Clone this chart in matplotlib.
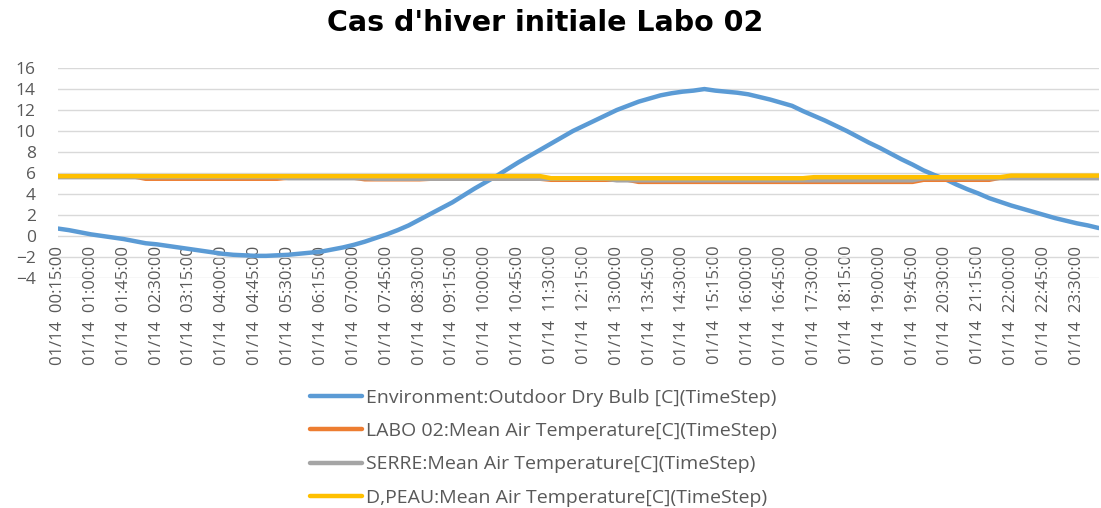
import matplotlib
matplotlib.use("Agg")
import matplotlib.pyplot as plt

# 15-minute timesteps for 01/14, 00:15 through 24:00
times = [f"{(15 * (i + 1)) // 60:02d}:{(15 * (i + 1)) % 60:02d}:00" for i in range(96)]

outdoor = [
    0.7, 0.55, 0.35, 0.15, 0.0, -0.15, -0.3, -0.5, -0.7, -0.8, -0.95, -1.1,
    -1.25, -1.4, -1.55, -1.7, -1.8, -1.85, -1.9, -1.9, -1.85, -1.8, -1.7, -1.6,
    -1.5, -1.3, -1.1, -0.85, -0.55, -0.2, 0.15, 0.55, 1.0, 1.55, 2.1, 2.65,
    3.2, 3.85, 4.5, 5.1, 5.7, 6.35, 7.0, 7.6, 8.2, 8.8, 9.4, 10.0,
    10.5, 11.0, 11.5, 12.0, 12.4, 12.8, 13.1, 13.4, 13.6, 13.75, 13.85, 14.0,
    13.85, 13.75, 13.65, 13.5, 13.25, 13.0, 12.7, 12.4, 11.9, 11.45, 11.0, 10.5,
    10.0, 9.45, 8.9, 8.4, 7.85, 7.3, 6.8, 6.25, 5.8, 5.4, 4.9, 4.45,
    4.05, 3.6, 3.25, 2.9, 2.6, 2.3, 2.0, 1.7, 1.45, 1.2, 1.0, 0.75,
]

labo02 = [
    5.65, 5.65, 5.65, 5.65, 5.65, 5.65, 5.65, 5.65, 5.45, 5.45, 5.45, 5.45,
    5.45, 5.45, 5.45, 5.45, 5.45, 5.45, 5.45, 5.45, 5.45, 5.55, 5.55, 5.55,
    5.55, 5.55, 5.55, 5.55, 5.4, 5.4, 5.4, 5.4, 5.4, 5.4, 5.45, 5.45,
    5.45, 5.45, 5.45, 5.45, 5.45, 5.45, 5.45, 5.45, 5.45, 5.35, 5.35, 5.35,
    5.35, 5.35, 5.35, 5.35, 5.35, 5.15, 5.15, 5.15, 5.15, 5.15, 5.15, 5.15,
    5.15, 5.15, 5.15, 5.15, 5.15, 5.15, 5.15, 5.15, 5.15, 5.15, 5.15, 5.15,
    5.15, 5.15, 5.15, 5.15, 5.15, 5.15, 5.15, 5.35, 5.35, 5.35, 5.35, 5.35,
    5.35, 5.35, 5.55, 5.55, 5.55, 5.55, 5.55, 5.55, 5.55, 5.55, 5.55, 5.55,
]

serre = [
    5.6, 5.6, 5.6, 5.6, 5.6, 5.6, 5.6, 5.6, 5.6, 5.6, 5.6, 5.6,
    5.6, 5.6, 5.6, 5.6, 5.6, 5.6, 5.6, 5.6, 5.6, 5.5, 5.5, 5.5,
    5.5, 5.5, 5.5, 5.5, 5.5, 5.45, 5.45, 5.45, 5.45, 5.45, 5.45, 5.45,
    5.45, 5.45, 5.45, 5.45, 5.45, 5.45, 5.45, 5.45, 5.45, 5.45, 5.45, 5.45,
    5.45, 5.45, 5.45, 5.3, 5.3, 5.3, 5.3, 5.3, 5.3, 5.3, 5.3, 5.3,
    5.3, 5.3, 5.3, 5.3, 5.3, 5.3, 5.3, 5.3, 5.3, 5.3, 5.3, 5.3,
    5.3, 5.3, 5.3, 5.3, 5.3, 5.3, 5.3, 5.5, 5.5, 5.5, 5.5, 5.5,
    5.5, 5.5, 5.5, 5.5, 5.5, 5.5, 5.5, 5.5, 5.5, 5.5, 5.5, 5.5,
]

dpeau = [
    5.7, 5.7, 5.7, 5.7, 5.7, 5.7, 5.7, 5.7, 5.7, 5.7, 5.7, 5.7,
    5.7, 5.7, 5.7, 5.7, 5.7, 5.7, 5.7, 5.7, 5.7, 5.7, 5.7, 5.7,
    5.7, 5.7, 5.7, 5.7, 5.7, 5.7, 5.7, 5.7, 5.7, 5.7, 5.7, 5.7,
    5.7, 5.7, 5.7, 5.7, 5.7, 5.7, 5.7, 5.7, 5.7, 5.5, 5.5, 5.5,
    5.5, 5.5, 5.5, 5.5, 5.5, 5.5, 5.5, 5.5, 5.5, 5.5, 5.5, 5.5,
    5.5, 5.5, 5.5, 5.5, 5.5, 5.5, 5.5, 5.5, 5.5, 5.6, 5.6, 5.6,
    5.6, 5.6, 5.6, 5.6, 5.6, 5.6, 5.6, 5.6, 5.6, 5.6, 5.6, 5.6,
    5.6, 5.6, 5.6, 5.75, 5.75, 5.75, 5.75, 5.75, 5.75, 5.75, 5.75, 5.75,
]

series = [
    ("Environment:Outdoor Dry Bulb [C](TimeStep)", outdoor, "#5B9BD5"),
    ("LABO 02:Mean Air Temperature[C](TimeStep)", labo02, "#ED7D31"),
    ("SERRE:Mean Air Temperature[C](TimeStep)", serre, "#A5A5A5"),
    ("D,PEAU:Mean Air Temperature[C](TimeStep)", dpeau, "#FFC000"),
]

plt.rcParams["font.family"] = ["Open Sans", "DejaVu Sans"]
text_color = "#595959"

fig = plt.figure(figsize=(11.01, 5.08), dpi=100)
ax = fig.add_axes([0.0527, 0.453, 0.9453, 0.413])

x = list(range(len(times)))
for name, vals, color in series:
    ax.plot(x, vals, color=color, lw=3.2, label=name, solid_capstyle="round")

ax.set_xlim(0, len(times) - 1)
ax.set_ylim(-4, 16)
ax.set_yticks(range(-4, 17, 2))
ax.yaxis.grid(True, color="#D9D9D9", lw=1.0)
ax.set_axisbelow(True)

for side in ("top", "right", "left"):
    ax.spines[side].set_visible(False)
# category labels hang from the zero line
ax.spines["bottom"].set_position(("data", 0))
ax.spines["bottom"].set_color("none")

tick_idx = x[::3]
ax.set_xticks(tick_idx)
ax.set_xticklabels([f"01/14  {times[i]}" for i in tick_idx], rotation=90,
                   fontsize=12, color=text_color)
ax.tick_params(axis="x", length=0, pad=7)
ax.tick_params(axis="y", length=0, pad=16, labelsize=12.5, labelcolor=text_color)

fig.text(0.495, 0.955, "Cas d'hiver initiale Labo 02", ha="center", va="center",
         fontsize=20.5, fontweight="bold", color="black", family="DejaVu Sans")

leg = fig.legend(loc="upper left", bbox_to_anchor=(0.2816, 0.234), frameon=False,
                 fontsize=14, handlelength=2.67, handletextpad=0.2,
                 labelspacing=0.78, borderpad=0, borderaxespad=0)
for t in leg.get_texts():
    t.set_color(text_color)

fig.savefig("out.png", dpi=100)
plt.close(fig)
